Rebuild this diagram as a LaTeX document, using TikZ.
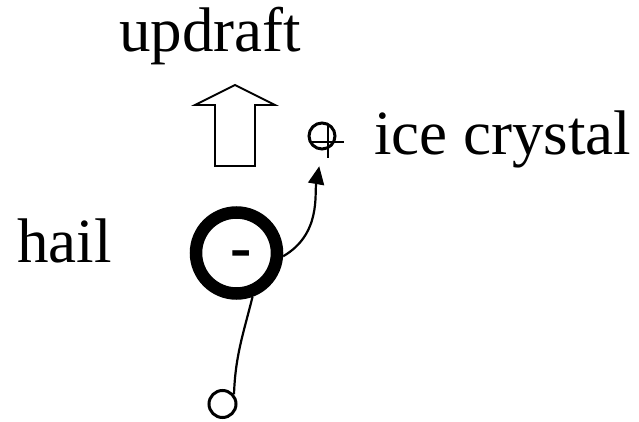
\documentclass[tikz,border=0pt]{standalone}
\usepackage{fontspec}
\setmainfont{Liberation Serif}
\usetikzlibrary{arrows.meta}
\begin{document}
\begin{tikzpicture}[x=1pt,y=-1pt,
  lbl/.style={anchor=base west,inner sep=0pt,font=\fontsize{63}{70}\selectfont},
  thin line/.style={line width=2.2pt},
  ring/.style={circle,draw,inner sep=0pt}]
\useasboundingbox (0,0) rectangle (639,422);
% labels
\node[lbl] (updraft) at (119,52) {updraft};
\node[lbl] (icelbl) at (374,155) {ice crystal};
\node[lbl] (haillbl) at (17,262) {hail};
% updraft arrow
\draw[line width=1.8pt,line join=miter] (215,166) -- (215,105) -- (195,105) -- (235,85)
  -- (275,105) -- (255,105) -- (255,166) -- cycle;
% ice crystal
\node[ring,line width=3pt,minimum size=26pt] (ice) at (322,136) {};
\draw[line width=2.8pt] (310,142) -- (344,142);
\draw[line width=2.8pt] (328,125) -- (328,158);
% hail
\node[ring,line width=12.5pt,minimum size=81pt] (hail) at (236.5,253) {};
\node[anchor=base,inner sep=0pt,font=\fontsize{64}{70}\selectfont\bfseries] (minus) at (241,268) {-};
% small particle
\node[ring,line width=3pt,minimum size=27pt] (small) at (222.5,404) {};
% connectors
\draw[thin line] (small.40) to[out=88,in=-104] (hail.-70);
\draw[thin line,-{Triangle[length=18pt,width=16pt]},shorten >=16pt] (hail.-4) to[out=30,in=-100] (ice.south);
\end{tikzpicture}
\end{document}
